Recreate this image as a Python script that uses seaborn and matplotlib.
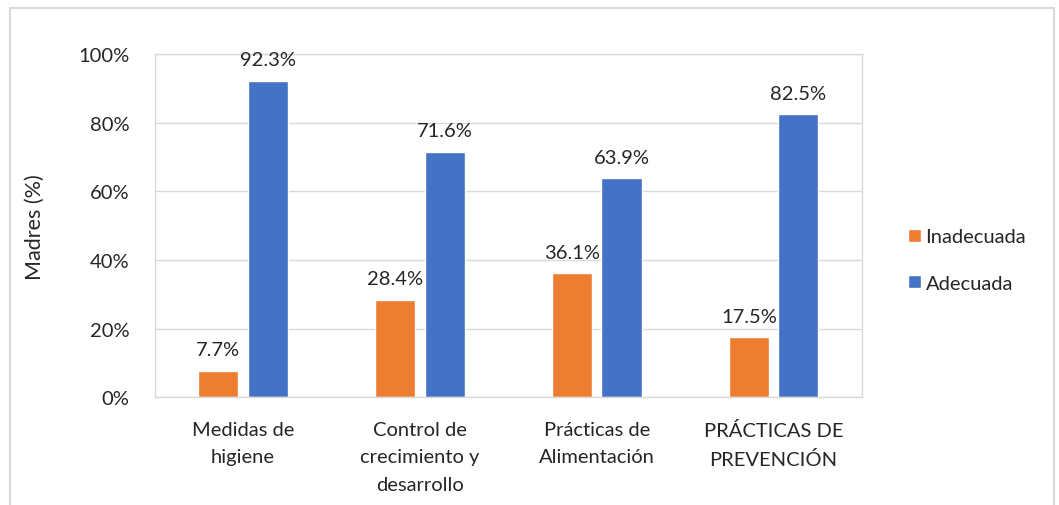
import pandas as pd
import numpy as np
import matplotlib.pyplot as plt
import seaborn as sns
from matplotlib.patches import Rectangle

# --- Datos ---
categorias = ['Medidas de\nhigiene', 'Control de\ncrecimiento y\ndesarrollo',
              'Prácticas de\nAlimentación', 'PRÁCTICAS DE\nPREVENCIÓN']
inadecuada = [7.7, 28.4, 36.1, 17.5]
adecuada = [92.3, 71.6, 63.9, 82.5]
series = ['Inadecuada', 'Adecuada']
colores = ['#ED7D31', '#4472C4']

df = pd.DataFrame({
    'Categoria': categorias * 2,
    'Serie': [series[0]] * 4 + [series[1]] * 4,
    'Valor': inadecuada + adecuada,
})

sns.set_style('white')
plt.rcParams['font.family'] = ['Lato', 'DejaVu Sans']

fig = plt.figure(figsize=(10.59, 5.06), dpi=100)
ax = fig.add_axes([0.146, 0.213, 0.668, 0.678])

sns.barplot(data=df, x='Categoria', y='Valor', hue='Serie', palette=colores,
            saturation=1, width=0.56, gap=0.19, ax=ax, legend=True)

for cont in ax.containers:
    ax.bar_label(cont, labels=[f'{v:.1f}%' for v in cont.datavalues],
                 padding=9, fontsize=14.5)

ax.set_ylim(0, 100)
ax.set_xlim(-0.5, 3.5)
ax.set_yticks(np.arange(0, 101, 20))
ax.set_yticklabels([f'{t}%' for t in range(0, 101, 20)], fontsize=14.5)
ax.set_xticks(range(4))
ax.set_xticklabels(categorias, fontsize=14.5, linespacing=1.75)
ax.tick_params(axis='x', length=0, pad=17)
ax.tick_params(axis='y', length=0, pad=18)
ax.set_xlabel('')
ax.set_ylabel('Madres (%)', fontsize=15.5, labelpad=24)
ax.yaxis.grid(True, color='#D9D9D9', linewidth=1)
ax.set_axisbelow(True)
for s in ax.spines.values():
    s.set_color('#D9D9D9')
    s.set_linewidth(1)

leg = ax.legend(loc='center left', bbox_to_anchor=(1.04, 0.40), frameon=False,
                fontsize=14.5, handlelength=0.6, handleheight=0.6,
                handletextpad=0.25, labelspacing=1.45)

# marco exterior
fig.patches.append(Rectangle((0.009, -0.1), 0.986, 1.082, transform=fig.transFigure,
                             fill=False, edgecolor='#D9D9D9', linewidth=1.5))

fig.savefig('out.png', dpi=100)
